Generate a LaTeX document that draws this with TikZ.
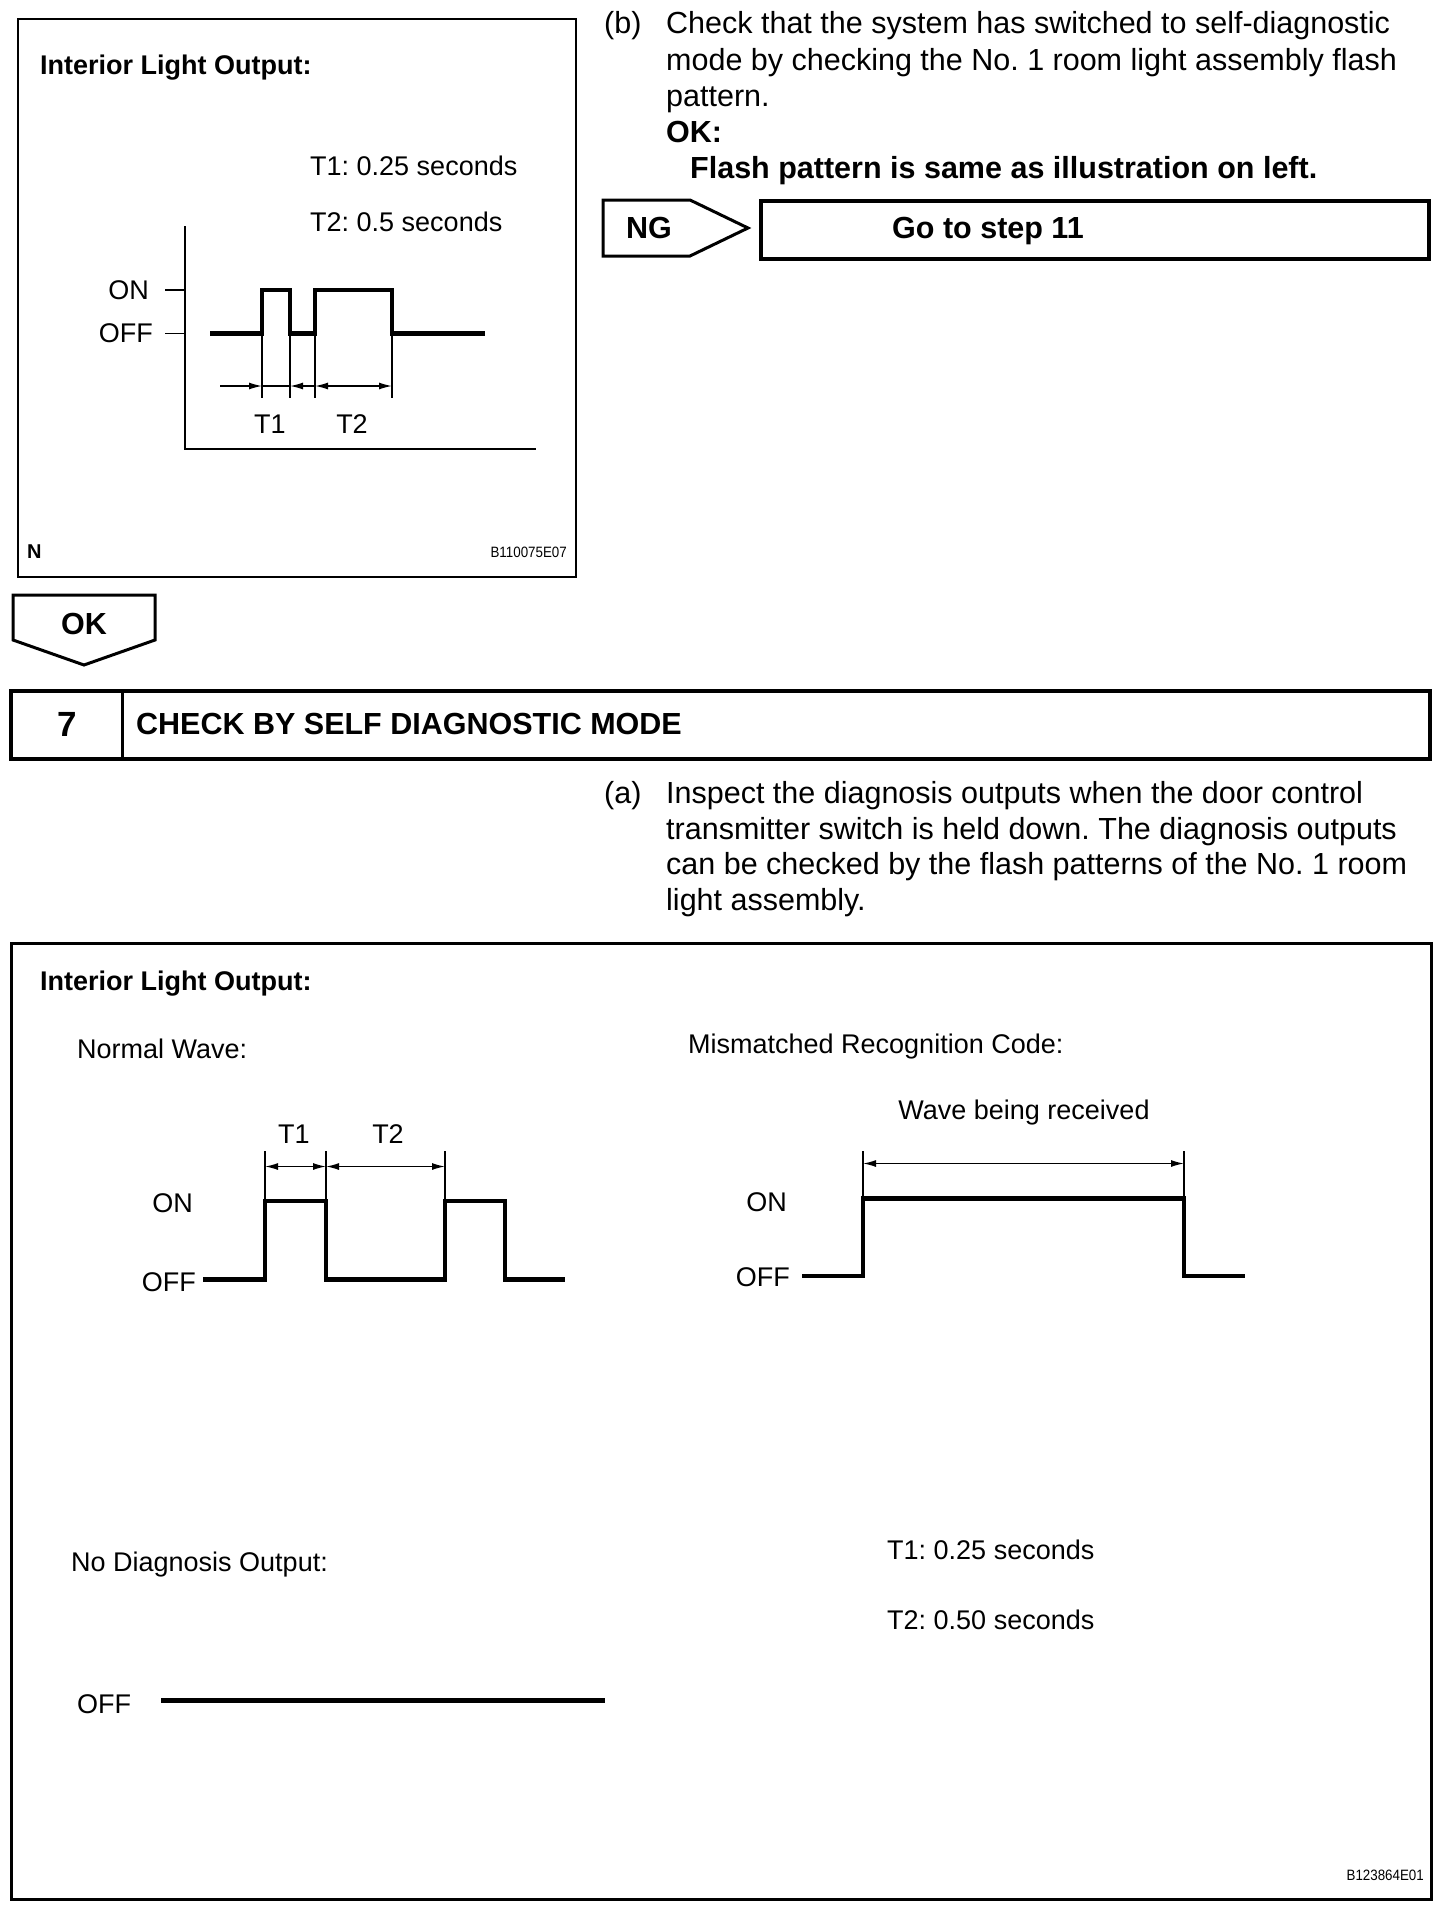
\documentclass[tikz,border=0pt]{standalone}
\usepackage{fontspec}
\setmainfont{Liberation Sans}
\newfontfamily\narrowfont[FakeStretch=0.89]{Liberation Sans}
\usetikzlibrary{arrows.meta}
\frenchspacing
\begin{document}
\begin{tikzpicture}[x=1pt,y=-1pt,
  thinl/.style={line width=1.4pt},
  ext/.style={line width=1.2pt},
  wave/.style={line width=4.5pt,line join=miter,line cap=butt},
  frame/.style={draw,line width=3pt},
  tipL/.tip={Latex[length=13pt,width=7pt]},
  dimarr/.style={line width=1.4pt,tipL-tipL},
  lbl/.style={inner sep=0pt,font=\fontsize{27}{32}\selectfont},
  lblb/.style={inner sep=0pt,font=\fontsize{27}{32}\selectfont\bfseries},
  body/.style={inner sep=0pt,font=\fontsize{30.5}{36}\selectfont},
  bodyb/.style={inner sep=0pt,font=\fontsize{30.5}{36}\selectfont\bfseries},
  tinytxt/.style={inner sep=0pt,font=\narrowfont\fontsize{15}{17}\selectfont},
]
\useasboundingbox[fill=white] (0,0) rectangle (1456,1914);

% ---------- top-left illustration ----------
\draw[frame,line width=2.3pt] (18,19) rectangle (576,577);
\node[lblb,anchor=base west] (tltitle) at (40,74) {Interior Light Output:};
\node[lbl,anchor=base west] (tlt1) at (310,175) {T1: 0.25 seconds};
\node[lbl,anchor=base west] (tlt2) at (310,231) {T2: 0.5 seconds};
\draw[thinl] (185,226) -- (185,449) -- (536,449);
\coordinate (tlonA) at (165,290);  \coordinate (tlonB) at (185,290);
\coordinate (tloffA) at (165,333.6); \coordinate (tloffB) at (185,333.6);
\draw[thinl] (tlonA) -- (tlonB);
\draw[thinl] (tloffA) -- (tloffB);
\node[lbl,anchor=east] (tlon) at (149,290) {ON};
\node[lbl,anchor=east] (tloff) at (153,333.6) {OFF};
\draw[wave] (210,333.6) -- (262,333.6) -- (262,290) -- (290,290) -- (290,333.6)
  -- (315,333.6) -- (315,290) -- (392,290) -- (392,333.6) -- (485,333.6);
\foreach \x in {262,290,315,392} \draw[ext] (\x,333.6) -- (\x,398);
\coordinate (ta0) at (220,386); \coordinate (ta1) at (262,386);
\coordinate (ta2) at (290,386); \coordinate (ta3) at (315,386);
\coordinate (ta4) at (392,386);
\draw[thinl,-tipL] (ta0) -- (ta1);
\draw[thinl] (ta1) -- (ta2);
\draw[thinl,tipL-] (ta2) -- (ta3);
\draw[dimarr] (ta3) -- (ta4);
\node[lbl,anchor=base] (tlT1) at (270,433) {T1};
\node[lbl,anchor=base] (tlT2) at (352,433) {T2};
\node[inner sep=0pt,font=\fontsize{20}{22}\selectfont\bfseries,anchor=base west] (tlN) at (27,558) {N};
\node[tinytxt,anchor=base east] (tlcode) at (567,557) {B110075E07};

% ---------- top-right text ----------
\node[body,anchor=base west] (pb) at (604,33) {(b)};
\node[body,anchor=base west] (pb1) at (666,33) {Check that the system has switched to self-diagnostic};
\node[body,anchor=base west] (pb2) at (666,70) {mode by checking the No. 1 room light assembly flash};
\node[body,anchor=base west] (pb3) at (666,106) {pattern.};
\node[bodyb,anchor=base west] (pb4) at (666,142) {OK:};
\node[bodyb,anchor=base west] (pb5) at (690,178) {Flash pattern is same as illustration on left.};

% NG arrow and target box
\draw[line width=3pt,line join=miter] (603,200) -- (690,200) -- (748,228) -- (690,256) -- (603,256) -- cycle;
\node[bodyb,anchor=base west] (ng) at (626,238) {NG};
\draw[line width=4pt] (761,201) rectangle (1429,259);
\node[bodyb,anchor=base west] (goto) at (892,238) {Go to step 11};

% OK arrow
\draw[line width=3pt,line join=miter] (13,595) -- (155,595) -- (155,640) -- (84,665) -- (13,640) -- cycle;
\node[bodyb,anchor=base] (ok) at (84,634) {OK};

% step 7 header
\draw[line width=3.5pt] (11,691) rectangle (1430,759);
\draw[line width=3pt] (122,691) -- (122,759);
\node[inner sep=0pt,font=\fontsize{35}{40}\selectfont\bfseries,anchor=base] (stepno) at (67,736) {7};
\node[bodyb,anchor=base west] (steptitle) at (136,734) {CHECK BY SELF DIAGNOSTIC MODE};

% (a) text
\node[body,anchor=base west] (pa) at (604,803) {(a)};
\node[body,anchor=base west] (pa1) at (666,803) {Inspect the diagnosis outputs when the door control};
\node[body,anchor=base west] (pa2) at (666,839) {transmitter switch is held down. The diagnosis outputs};
\node[body,anchor=base west] (pa3) at (666,874.5) {can be checked by the flash patterns of the No. 1 room};
\node[body,anchor=base west] (pa4) at (666,910) {light assembly.};

% ---------- bottom illustration ----------
\draw[frame] (11,943) rectangle (1431,1899);
\node[lblb,anchor=base west] (btitle) at (40,990) {Interior Light Output:};
\node[lbl,anchor=base west] (nwave) at (77,1058) {Normal Wave:};
\node[lbl,anchor=base west] (mwave) at (688,1053) {Mismatched Recognition Code:};
\node[lbl,anchor=base] (wbr) at (1024,1119) {Wave being received};

% normal wave
\draw[wave] (203,1279.5) -- (265,1279.5) -- (265,1201) -- (326,1201) -- (326,1279.5)
  -- (445,1279.5) -- (445,1201) -- (505,1201) -- (505,1279.5) -- (565,1279.5);
\foreach \x in {265,326,445} \draw[ext] (\x,1151) -- (\x,1201);
\coordinate (na0) at (265,1166.5); \coordinate (na1) at (326,1166.5); \coordinate (na2) at (445,1166.5);
\draw[dimarr] (na0) -- (na1);
\draw[dimarr] (na1) -- (na2);
\node[lbl,anchor=base] (nT1) at (294,1143) {T1};
\node[lbl,anchor=base] (nT2) at (388,1143) {T2};
\node[lbl,anchor=east] (non) at (193,1203) {ON};
\node[lbl,anchor=east] (noff) at (196,1282) {OFF};

% mismatched wave
\draw[wave] (802,1276) -- (863,1276) -- (863,1198.5) -- (1184,1198.5) -- (1184,1276) -- (1245,1276);
\foreach \x in {863,1184} \draw[ext] (\x,1151) -- (\x,1198.5);
\coordinate (ma0) at (863,1163.5); \coordinate (ma1) at (1184,1163.5);
\draw[dimarr] (ma0) -- (ma1);
\node[lbl,anchor=east] (mon) at (787,1202) {ON};
\node[lbl,anchor=east] (moff) at (790,1277) {OFF};

% no diagnosis
\node[lbl,anchor=base west] (nodiag) at (71,1571) {No Diagnosis Output:};
\node[lbl,anchor=west] (ndoff) at (77,1704) {OFF};
\draw[wave] (161,1700.5) -- (605,1700.5);

\node[lbl,anchor=base west] (bt1) at (887,1559) {T1: 0.25 seconds};
\node[lbl,anchor=base west] (bt2) at (887,1629) {T2: 0.50 seconds};
\node[tinytxt,anchor=base east] (bcode) at (1424,1880) {B123864E01};
\end{tikzpicture}
\end{document}
